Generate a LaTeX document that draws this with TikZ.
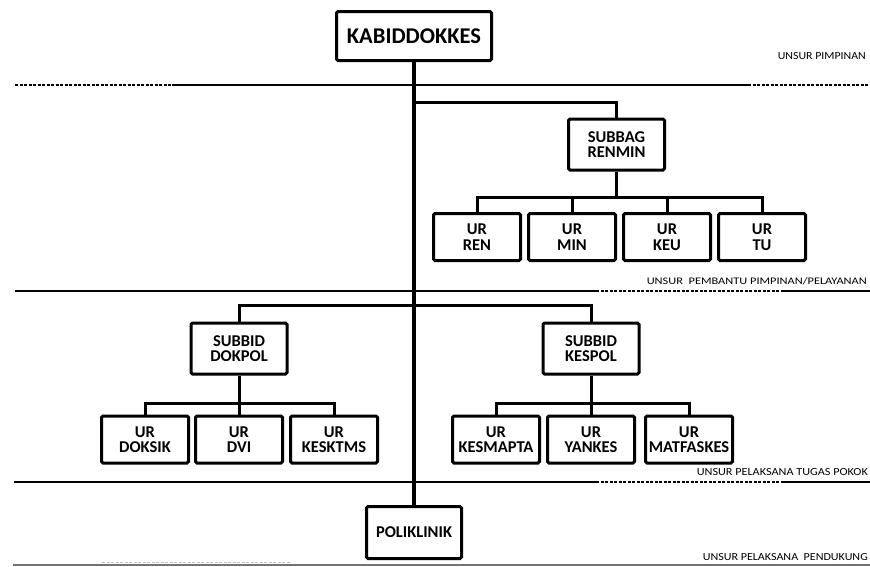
\documentclass[tikz,border=0pt]{standalone}
\usepackage{fontspec}
\setmainfont{Carlito}
\begin{document}
\begin{tikzpicture}[x=1pt,y=-1pt,
  box/.style={draw, line width=3pt, rounded corners=1.5pt, inner sep=0pt, align=center,
    font=\bfseries\fontsize{16.5}{15.5}\selectfont},
  urbox/.style={box, minimum width=87pt, minimum height=47pt},
  subbox/.style={box, minimum width=96pt, minimum height=51pt},
  conn/.style={line width=3pt},
  divider/.style={line width=2.2pt},
  dashdiv/.style={line width=2pt, dash pattern=on 3pt off 1.5pt},
  unsur/.style={anchor=east, inner sep=0pt, font=\fontsize{10}{10}\selectfont}]
\useasboundingbox (0,0) rectangle (870,566);

% divider lines
\draw[dashdiv] (15,85) -- (172,85);
\draw[divider, line width=2pt] (172,85) -- (748,85);
\draw[dashdiv] (748,85) -- (870,85);

\draw[divider] (15,291) -- (596,291);
\draw[dashdiv] (596,291) -- (783,291);
\draw[divider] (783,291) -- (870,291);

\draw[divider] (14,482) -- (596,482);
\draw[dashdiv] (596,482) -- (783,482);
\draw[divider] (783,482) -- (870,482);

\draw[line width=1.5pt, black!55] (13,565) -- (870,565);
\draw[line width=1pt, black!25, dash pattern=on 3pt off 1.5pt] (102,562) -- (290,562);

% boxes
\node[box, minimum width=155pt, minimum height=49pt, font=\bfseries\fontsize{22.5}{24}\selectfont] (kabid) at (414,36) {KABIDDOKKES};
\node[subbox] (renmin) at (616.5,144.5) {SUBBAG\\RENMIN};
\node[urbox] (ren) at (477,237) {UR\\REN};
\node[urbox] (min) at (572,237) {UR\\MIN};
\node[urbox] (keu) at (667,237) {UR\\KEU};
\node[urbox] (tu) at (762,237) {UR\\TU};

\node[subbox] (dokpol) at (239,348.5) {SUBBID\\DOKPOL};
\node[subbox] (kespol) at (591,348.5) {SUBBID\\KESPOL};

\node[urbox] (doksik) at (145,439.5) {UR\\DOKSIK};
\node[urbox] (dvi) at (239,439.5) {UR\\DVI};
\node[urbox] (kesktms) at (334,439.5) {UR\\KESKTMS};

\node[urbox] (kesmapta) at (496,439.5) {UR\\KESMAPTA};
\node[urbox] (yankes) at (591,439.5) {UR\\YANKES};
\node[urbox] (matfaskes) at (689,439.5) {UR\\MATFASKES};

\node[box, minimum width=95pt, minimum height=52pt] (poli) at (414,532.5) {POLIKLINIK};

% connectors
\coordinate (j1) at (414,102);
\coordinate (j2) at (414,305);
\coordinate (b1) at (616.5,197);
\coordinate (c1) at (239,403);
\coordinate (c2) at (591,403);

\draw[conn, line width=3.5pt] (kabid.south) -- (poli.north);
\draw[conn] (j1) -| (renmin.north);
\draw[conn] (renmin.south) -- (b1);
\draw[conn] (ren.north) |- (b1) -| (tu.north);
\draw[conn] (min.north) -- (min.north |- b1);
\draw[conn] (keu.north) -- (keu.north |- b1);

\draw[conn] (dokpol.north) |- (j2) -| (kespol.north);
\draw[conn] (dokpol.south) -- (c1);
\draw[conn] (doksik.north) |- (c1) -| (kesktms.north);
\draw[conn] (dvi.north) -- (c1);
\draw[conn] (kespol.south) -- (c2);
\draw[conn] (kesmapta.north) |- (c2) -| (matfaskes.north);
\draw[conn] (yankes.north) -- (c2);

% labels
\node[unsur] (u1) at (866,56) {\resizebox{88pt}{7pt}{UNSUR PIMPINAN}};
\node[unsur] (u2) at (867,281) {\resizebox{220pt}{7pt}{UNSUR\ \ PEMBANTU PIMPINAN/PELAYANAN}};
\node[unsur] (u3) at (868,472) {\resizebox{171pt}{7pt}{UNSUR PELAKSANA TUGAS POKOK}};
\node[unsur] (u4) at (868,557) {\resizebox{165pt}{7pt}{UNSUR PELAKSANA\ \ PENDUKUNG}};
\end{tikzpicture}
\end{document}
